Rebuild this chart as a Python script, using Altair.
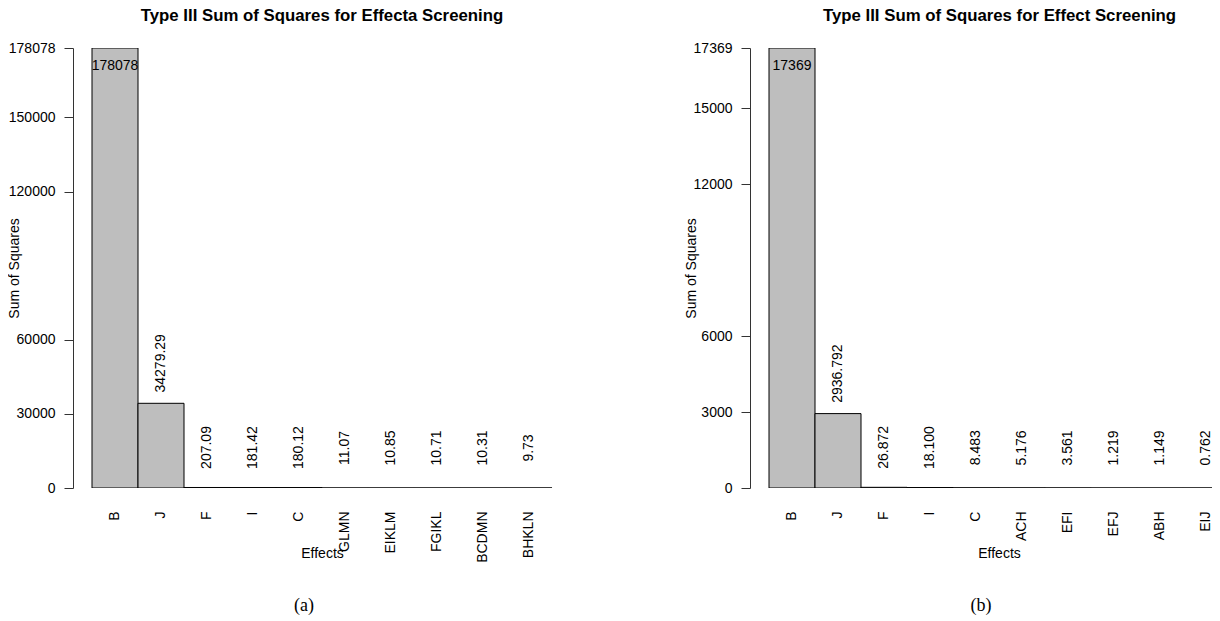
import altair as alt
import pandas as pd

# ---------------- data ----------------
effects_a = ["B", "J", "F", "I", "C", "GLMN", "EIKLM", "FGIKL", "BCDMN", "BHKLN"]
ss_a = [178078, 34279.29, 207.09, 181.42, 180.12, 11.07, 10.85, 10.71, 10.31, 9.73]
labels_a = ["178078", "34279.29", "207.09", "181.42", "180.12", "11.07", "10.85", "10.71", "10.31", "9.73"]
ticks_a = [0, 30000, 60000, 120000, 150000, 178078]
title_a = "Type III Sum of Squares for Effecta Screening"
caption_a = ["(a)"]

effects_b = ["B", "J", "F", "I", "C", "ACH", "EFI", "EFJ", "ABH", "EIJ"]
ss_b = [17369, 2936.792, 26.872, 18.100, 8.483, 5.176, 3.561, 1.219, 1.149, 0.762]
labels_b = ["17369", "2936.792", "26.872", "18.100", "8.483", "5.176", "3.561", "1.219", "1.149", "0.762"]
ticks_b = [0, 3000, 6000, 12000, 15000, 17369]
title_b = "Type III Sum of Squares for Effect Screening"
caption_b = ["(b)"]

FONT = "Liberation Sans"
SERIF = "Liberation Serif"
AXIS_COLOR = "#333333"


def panel(effects, ss, labels, ticks, title, caption, width, title_dx):
    df = pd.DataFrame({"effect": effects, "ss": ss, "label": labels,
                       "rank": list(range(len(effects)))})
    ymax = max(ss)
    x = alt.X(
        "effect:N",
        scale=alt.Scale(domain=effects, range=[19, 479], paddingInner=0, paddingOuter=0),
        axis=alt.Axis(
            title="Effects", labelAngle=270, labelFontSize=14, labelFont=FONT,
            labelColor="black", labelPadding=23, ticks=False, tickSize=0, domain=False,
            labelOverlap=False, titleFontSize=14, titleFont=FONT, titleFontWeight="normal",
            titleColor="black", titleX=249, titleY=65, titleBaseline="middle",
            titleAlign="center", titleAngle=0,
        ),
    )
    y = alt.Y(
        "ss:Q",
        scale=alt.Scale(domain=[0, ymax], nice=False, zero=True),
        axis=alt.Axis(
            title="Sum of Squares", values=ticks, format="d", labelFontSize=14,
            labelFont=FONT, labelColor="black", tickSize=9, labelPadding=9, grid=False,
            domainColor=AXIS_COLOR, tickColor=AXIS_COLOR, labelOverlap=False,
            labelFlush=False, titleFontSize=14, titleFont=FONT, titleFontWeight="normal",
            titleColor="black", titleX=-59, titleY=220, titleAngle=270,
            titleBaseline="middle", titleAlign="center",
        ),
    )
    bars = alt.Chart(df).mark_bar(
        fill="#BEBEBE", stroke="black", strokeWidth=1, clip=True
    ).encode(x=x, y=y)
    top_label = alt.Chart(df).transform_filter("datum.rank == 0").mark_text(
        baseline="middle", align="center", dy=18, fontSize=14, font=FONT, color="black"
    ).encode(x=x, y=y, text="label:N")
    other_labels = alt.Chart(df).transform_filter("datum.rank > 0").mark_text(
        angle=270, baseline="middle", align="center", dx=40, fontSize=14, font=FONT,
        color="black"
    ).encode(x=x, y=y, text="label:N")
    cap = alt.Chart(pd.DataFrame({"c": caption})).mark_text(
        font=SERIF, fontSize=18, baseline="middle", align="center", color="black"
    ).encode(x=alt.value(231), y=alt.value(558), text="c:N")
    return alt.layer(bars, top_label, other_labels, cap).properties(
        width=width, height=440,
        title=alt.TitleParams(
            text=title, fontSize=16.8, fontWeight="bold", font=FONT, color="black",
            offset=16, anchor="middle", dx=title_dx,
        ),
    )


left = panel(effects_a, ss_a, labels_a, ticks_a, title_a, caption_a, 498, 0)
right = panel(effects_b, ss_b, labels_b, ticks_b, title_b, caption_b, 471, 14)

chart = alt.hconcat(left, right, spacing=113).configure_view(stroke=None).properties(
    autosize=alt.AutoSizeParams(type="none"),
    padding={"left": 65, "top": 40, "right": 1139, "bottom": 572},
    background="white",
)

chart.save("out.html", embed_options={"renderer": "svg", "actions": False})
